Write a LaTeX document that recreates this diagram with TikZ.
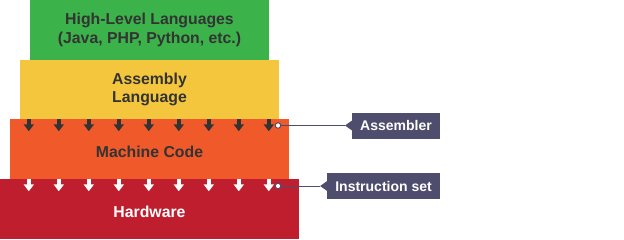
\documentclass[tikz,border=0pt]{standalone}
\usepackage{fontspec}
\setmainfont{Liberation Sans}
\usepackage{tikz}
\definecolor{highgreen}{RGB}{59, 179, 74}
\definecolor{asmyellow}{RGB}{244, 198, 61}
\definecolor{codeorange}{RGB}{240, 90, 42}
\definecolor{hardred}{RGB}{190, 30, 45}
\definecolor{tagblue}{RGB}{78, 77, 109}
\definecolor{darktext}{RGB}{51, 51, 51}
\usetikzlibrary{arrows.meta, positioning, calc}

\begin{document}
\begin{tikzpicture}[
    x=1pt, y=1pt,
    layer/.style={fill=#1, inner sep=0pt, minimum height=60pt, align=center,
                  text=darktext, font=\fontsize{15.8}{18.3}\selectfont\bfseries},
    tag/.style={fill=tagblue, text=white, inner xsep=8pt, inner ysep=0pt,
                minimum height=26pt, font=\fontsize{14}{16}\selectfont\bfseries},
    dot/.style={circle, draw=tagblue, fill=white, line width=1pt,
                inner sep=0pt, minimum size=5.5pt},
    down/.style={draw=#1, line width=3.6pt,
                 -{Triangle[width=10pt, length=7pt]}}
]
    \useasboundingbox (0,0) rectangle (624,239);

    \node[layer=highgreen, minimum width=239pt] (high) at (149.5,209) {
        High-Level Languages\\
        (Java, PHP, Python, etc.)
    };

    \node[layer=asmyellow, minimum width=259pt, minimum height=59pt] (assembly) at (149.5,149.5) {
        Assembly\\
        Language
    };

    \node[layer=codeorange, minimum width=279pt] (machine) at (149.5,90) {};
    \node[font=\fontsize{15.8}{18}\selectfont\bfseries, text=darktext] (machinetext)
        at ([yshift=-3pt]machine.center) {Machine Code};

    \node[layer=hardred, minimum width=299pt] (hardware) at (149.5,30) {};
    \node[font=\fontsize{15.8}{18}\selectfont\bfseries, text=white] (hardwaretext)
        at ([yshift=-3pt]hardware.center) {Hardware};

    % flow arrows
    \foreach \i in {0,...,8} {
        \draw[down=darktext] ([xshift=19+30*\i, yshift=-0.5]machine.north west) -- ++(0,-12);
        \draw[down=white] ([xshift=29+30*\i, yshift=-0.5]hardware.north west) -- ++(0,-12);
    }

    % callouts
    \node[tag, anchor=east] (assembler) at (440,113.5) {Assembler};
    \node[tag, anchor=east] (instrset) at (440,53) {Instruction set};
    \coordinate (assemblertip) at ([xshift=-7pt]assembler.west);
    \coordinate (instrsettip) at ([xshift=-7pt]instrset.west);
    \fill[tagblue] (assemblertip) -- ([yshift=5pt]assembler.west) -- ([yshift=-5pt]assembler.west) -- cycle;
    \fill[tagblue] (instrsettip) -- ([yshift=5pt]instrset.west) -- ([yshift=-5pt]instrset.west) -- cycle;

    \node[dot] (assemblerdot) at (278,113.5) {};
    \node[dot] (instrsetdot) at (278,53) {};

    \draw[tagblue, line width=1pt] (assemblerdot) -- (assemblertip);
    \draw[tagblue, line width=1pt] (instrsetdot) -- (instrsettip);
\end{tikzpicture}
\end{document}
